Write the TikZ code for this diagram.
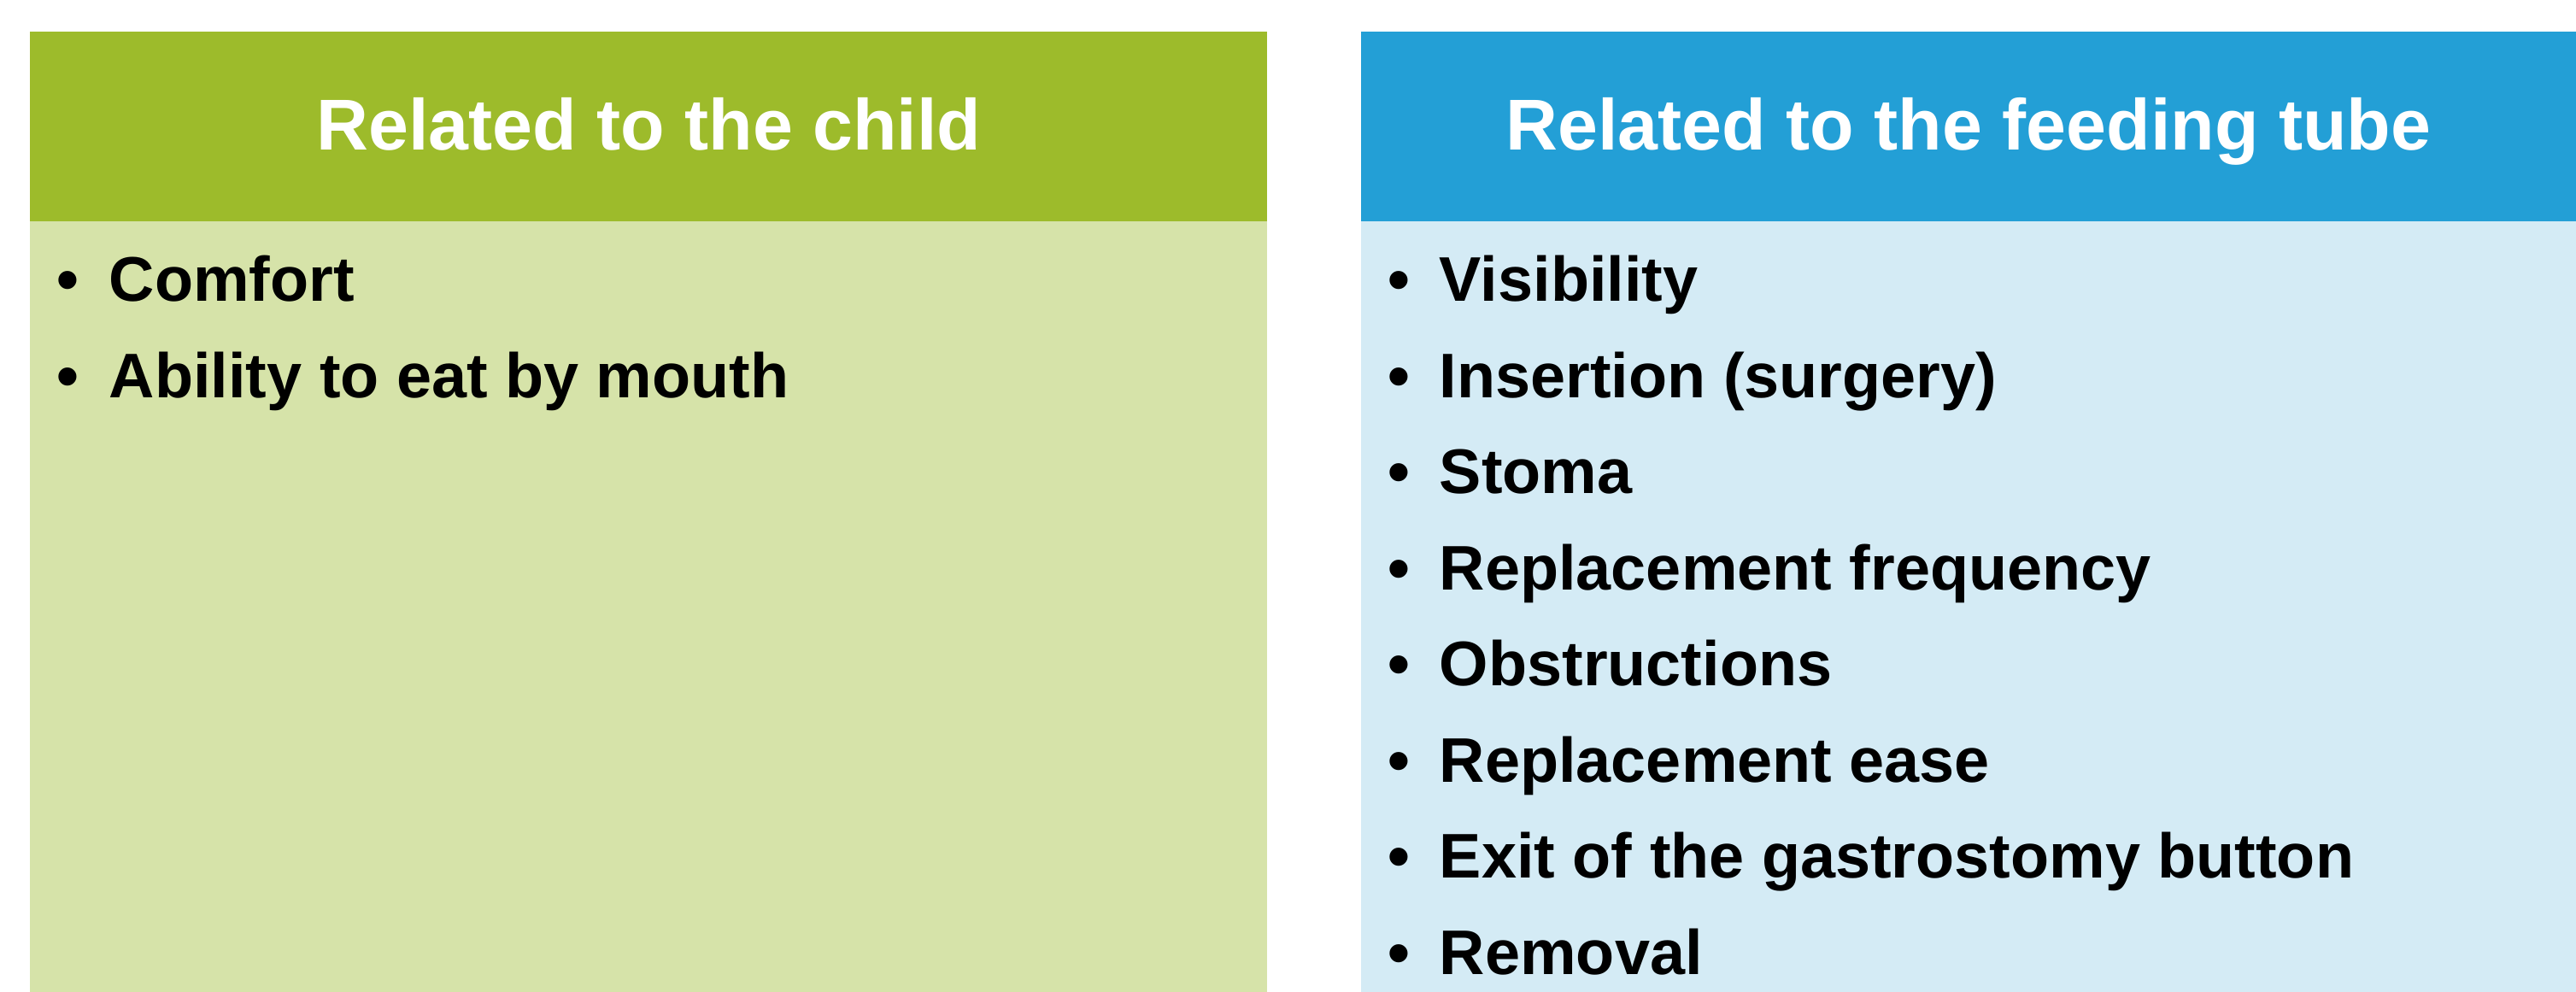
\documentclass[tikz,border=0pt]{standalone}
\usepackage{fontspec}
\setmainfont{Liberation Sans}
\usetikzlibrary{positioning}
\definecolor{childgreen}{HTML}{9DBB2B}
\definecolor{childlight}{HTML}{D6E3A9}
\definecolor{tubeblue}{HTML}{239FD6}
\definecolor{tubelight}{HTML}{D4EBF5}
\tikzstyle{heading} = [rectangle, inner sep=0pt, outer sep=0pt, minimum height=2.22cm, text height=0.73cm, text depth=0.18cm, text=white, font=\fontsize{24}{29}\selectfont\bfseries, anchor=north west]
\tikzstyle{panel} = [rectangle, inner sep=0pt, outer sep=0pt, minimum height=9.02cm]
\tikzstyle{itemline} = [inner sep=0pt, outer sep=0pt, text height=0.56cm, text depth=0.17cm, font=\fontsize{21}{25}\selectfont\bfseries, align=left]
\newcommand{\bul}{\makebox[0.61cm][l]{\textbullet}}

\begin{document}
\begin{tikzpicture}[node distance=0.395cm]
\useasboundingbox (0,0) rectangle (30.15,11.61);

\node (childhead) [heading, fill=childgreen, minimum width=14.475cm] at (0.355,11.24) {Related to the child};
\node (childbody) [panel, fill=childlight, minimum width=14.475cm, below=0cm of childhead] {};

\node (tubehead) [heading, fill=tubeblue, minimum width=14.22cm] at (15.93,11.24) {Related to the feeding tube};
\node (tubebody) [panel, fill=tubelight, minimum width=14.22cm, below=0cm of tubehead] {};

% left column
\node (comfort) [itemline, anchor=base west] at (0.67,8.08) {\bul Comfort};
\node (eat) [itemline, below=of comfort.south west, anchor=north west] {\bul Ability to eat by mouth};

% right column
\node (visib) [itemline, anchor=base west] at (16.24,8.08) {\bul Visibility};
\node (insert) [itemline, below=of visib.south west, anchor=north west] {\bul Insertion (surgery)};
\node (stoma) [itemline, below=of insert.south west, anchor=north west] {\bul Stoma};
\node (freq) [itemline, below=of stoma.south west, anchor=north west] {\bul Replacement frequency};
\node (obstr) [itemline, below=of freq.south west, anchor=north west] {\bul Obstructions};
\node (ease) [itemline, below=of obstr.south west, anchor=north west] {\bul Replacement ease};
\node (exit) [itemline, below=of ease.south west, anchor=north west] {\bul Exit of the gastrostomy button};
\node (removal) [itemline, below=of exit.south west, anchor=north west] {\bul Removal};
\end{tikzpicture}
\end{document}
